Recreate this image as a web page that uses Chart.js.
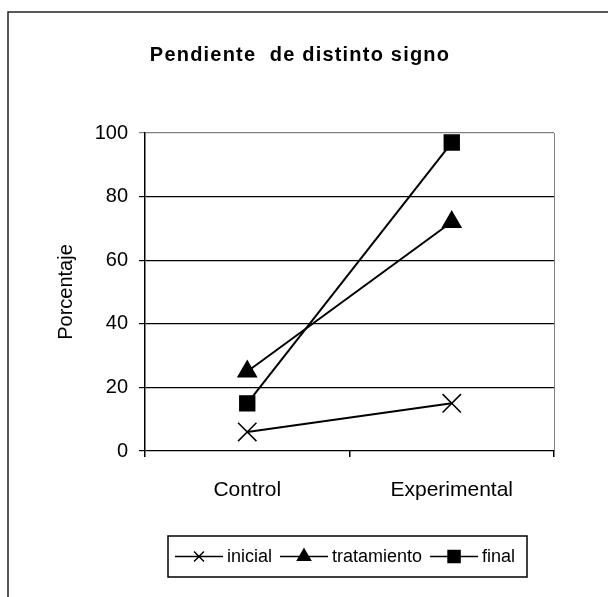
<!DOCTYPE html>
<html><head><meta charset="utf-8">
<style>html,body{margin:0;padding:0;background:#fff}#wrap{position:relative;width:608px;height:597px}</style>
<script src="https://cdn.jsdelivr.net/npm/chart.js@4/dist/chart.umd.min.js"></script>
</head><body><div id="wrap"><canvas id="c" width="608" height="597"></canvas></div>
<script>
const categories = ['Control', 'Experimental'];
const inicial = [6, 15];
const tratamiento = [25, 72];
const finalVals = [15, 97];
const yTicks = [0, 20, 40, 60, 80, 100];
const seriesNames = ['inicial', 'tratamiento', 'final'];
const titleText = 'Pendiente  de distinto signo';
const yTitleText = 'Porcentaje';

const FONT = '"Liberation Sans", Arial, sans-serif';

const decor = {
  id: 'decor',
  afterDraw(chart) {
    const ctx = chart.ctx;
    const ca = chart.chartArea;
    ctx.save();
    // outer frame (left + top visible)
    ctx.strokeStyle = '#222';
    ctx.lineWidth = 1.5;
    ctx.beginPath();
    ctx.moveTo(8, 597); ctx.lineTo(8, 12); ctx.lineTo(608, 12);
    ctx.stroke();
    // plot area right border (gray)
    ctx.strokeStyle = '#808080';
    ctx.lineWidth = 1;
    ctx.beginPath();
    ctx.moveTo(Math.round(ca.right) + 0.5, ca.top);
    ctx.lineTo(Math.round(ca.right) + 0.5, ca.bottom);
    ctx.stroke();
    // title
    ctx.fillStyle = '#000';
    ctx.font = 'bold 20px ' + FONT;
    if ('letterSpacing' in ctx) ctx.letterSpacing = '1.2px';
    ctx.textAlign = 'center';
    ctx.textBaseline = 'middle';
    ctx.fillText(titleText, 300, 55);
    if ('letterSpacing' in ctx) ctx.letterSpacing = '0px';
    // legend
    const boxX = 168, boxY = 536, boxW = 359, boxH = 41;
    ctx.strokeStyle = '#000';
    ctx.lineWidth = 1.5;
    ctx.strokeRect(boxX, boxY, boxW, boxH);
    ctx.font = '18px ' + FONT;
    ctx.textAlign = 'left';
    const ly = boxY + boxH / 2;
    const legendRadius = [7, 7.5, 8.5];
    let x = 175;
    chart.data.datasets.forEach((ds, i) => {
      ctx.strokeStyle = '#000';
      ctx.lineWidth = 1.5;
      ctx.beginPath();
      ctx.moveTo(x, ly); ctx.lineTo(x + 48, ly);
      ctx.stroke();
      ctx.fillStyle = '#000';
      Chart.helpers.drawPoint(ctx, {pointStyle: ds.pointStyle, radius: legendRadius[i], borderWidth: 1.5, rotation: 0}, x + 24, ly);
      ctx.fillStyle = '#000';
      ctx.fillText(ds.label, x + 52, ly + 1);
      x = x + 52 + ctx.measureText(ds.label).width + 8;
    });
    ctx.restore();
  }
};

const mk = (label, data, style, radius) => ({
  label, data,
  borderColor: '#000', backgroundColor: '#000',
  borderWidth: 2,
  pointStyle: style, pointRadius: radius, pointHoverRadius: radius,
  pointBorderWidth: 1.5, pointBorderColor: '#000', pointBackgroundColor: '#000',
  tension: 0, fill: false
});

new Chart(document.getElementById('c'), {
  type: 'line',
  data: {
    labels: categories,
    datasets: [
      mk(seriesNames[0], inicial, 'crossRot', 13),
      mk(seriesNames[1], tratamiento, 'triangle', 10.5),
      mk(seriesNames[2], finalVals, 'rect', 10.5)
    ]
  },
  options: {
    responsive: false,
    animation: false,
    devicePixelRatio: 1,
    layout: {padding: {left: 54, top: 133, right: 54, bottom: 0}},
    plugins: {legend: {display: false}, title: {display: false}, tooltip: {enabled: false}},
    scales: {
      x: {
        offset: true,
        afterFit(s) { s.height = 146; },
        grid: {offset: true, drawOnChartArea: false, color: '#000', tickLength: 6, lineWidth: 1.5},
        border: {display: false},
        ticks: {color: '#000', font: {family: FONT, size: 21}, padding: 21, maxRotation: 0}
      },
      y: {
        min: 0, max: 100,
        afterFit(s) { s.width = 91; },
        afterBuildTicks(s) { s.ticks = yTicks.map(v => ({value: v})); },
        grid: {
          color: ctx => (ctx.tick && ctx.tick.value === 100) ? '#808080' : '#000',
          lineWidth: 1.2, tickLength: 6
        },
        border: {display: true, color: '#000', width: 1.5},
        ticks: {color: '#000', font: {family: FONT, size: 20}, padding: 11},
        title: {display: true, text: yTitleText, color: '#000', font: {family: FONT, size: 20}, padding: 0}
      }
    }
  },
  plugins: [decor]
});
</script>
</body></html>
